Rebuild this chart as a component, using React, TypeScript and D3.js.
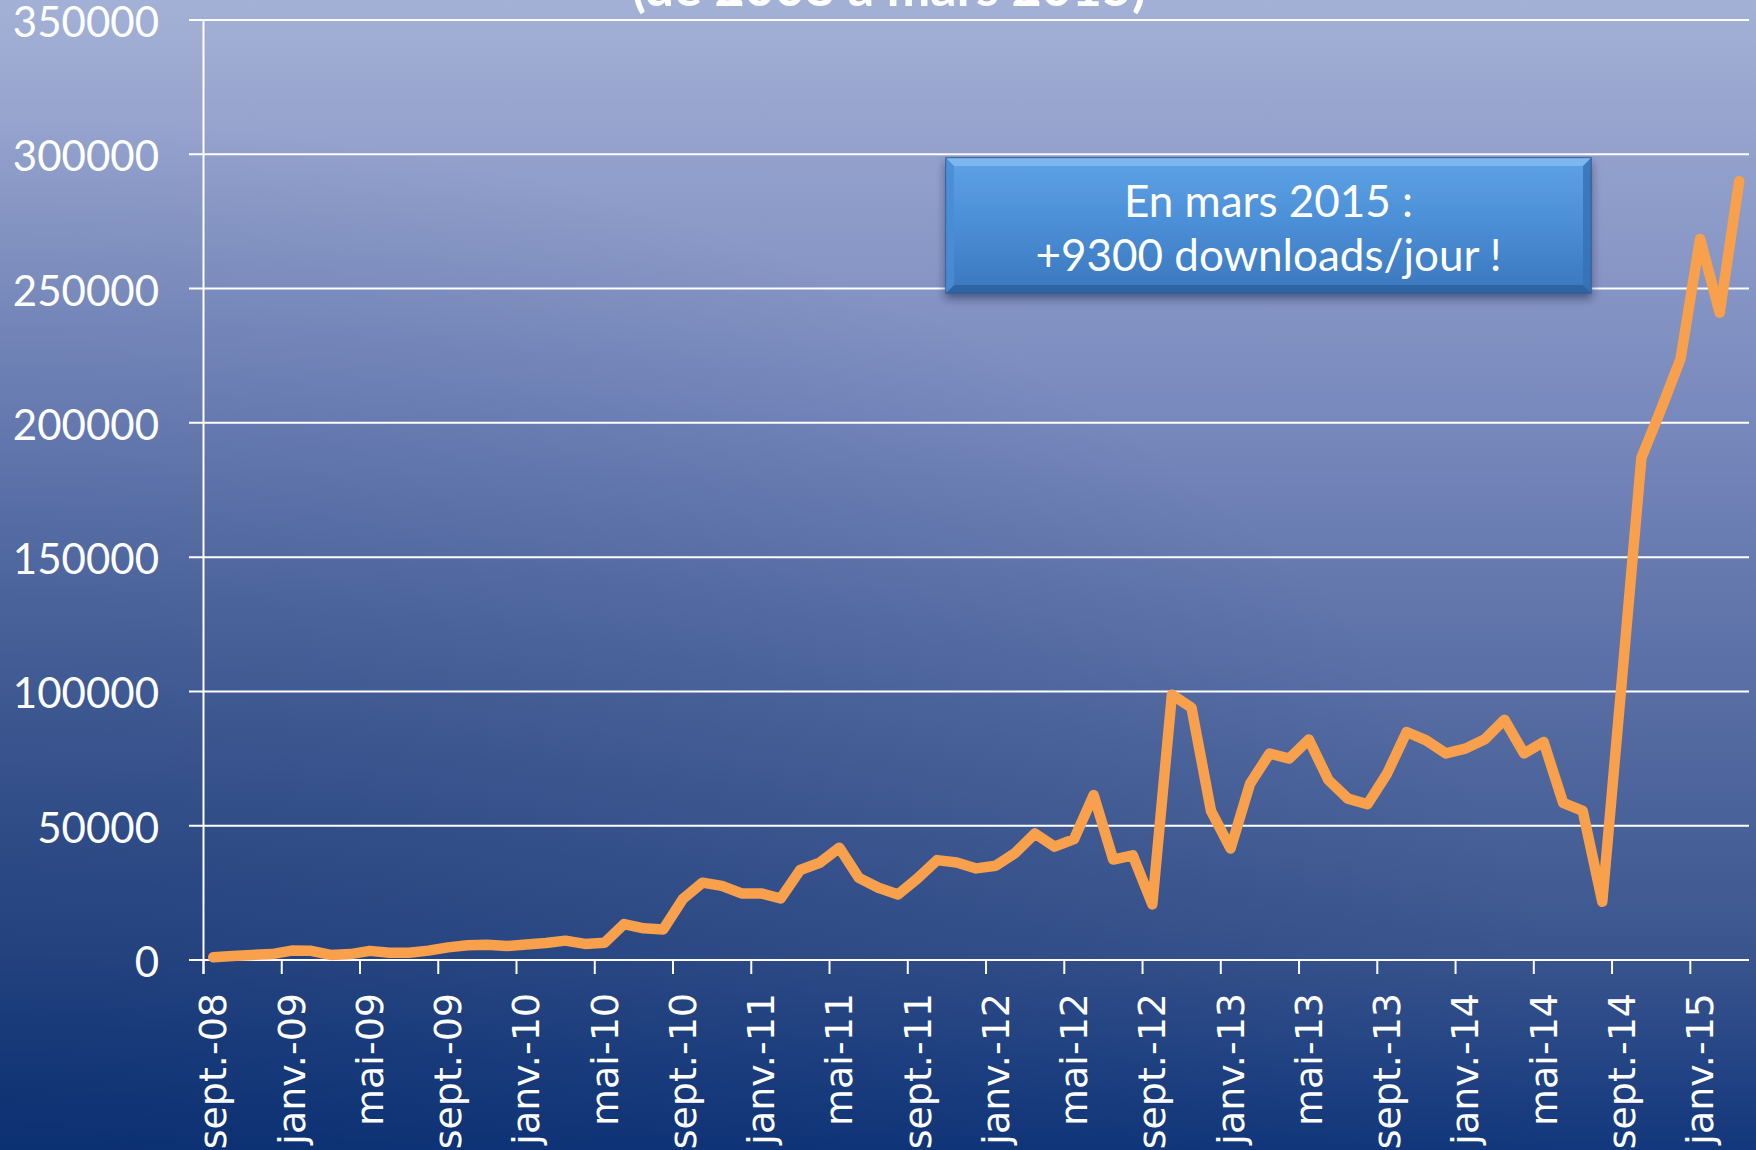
import React from "react";
import * as d3 from "d3";

// Monthly downloads, sept.-08 .. mars-15
const values: number[] = [
  1000, 1500, 1900, 2200, 3500, 3400, 1900, 2200, 3400, 2700,
  2700, 3500, 4700, 5500, 5700, 5200, 5800, 6300, 7200, 6000,
  6400, 13400, 11800, 11400, 22700, 28800, 27600, 24800, 24800, 22900,
  33500, 36200, 41800, 30600, 26900, 24400, 30400, 37200, 36300, 34100,
  35100, 39900, 47100, 42200, 45000, 61400, 37400, 39000, 20700, 98800,
  94000, 55500, 41500, 65700, 76900, 75000, 82100, 67000, 60100, 58000,
  69400, 84900, 81800, 76900, 78700, 82200, 89500, 76900, 81200, 58500,
  55500, 21700, 104000, 187000, 205000, 223800, 268500, 241000, 290000,
];

// Tick labels every 4 months
const tickLabels: string[] = [
  "sept.-08", "janv.-09", "mai-09", "sept.-09", "janv.-10", "mai-10",
  "sept.-10", "janv.-11", "mai-11", "sept.-11", "janv.-12", "mai-12",
  "sept.-12", "janv.-13", "mai-13", "sept.-13", "janv.-14", "mai-14",
  "sept.-14", "janv.-15",
];

const yTicks: number[] = [0, 50000, 100000, 150000, 200000, 250000, 300000, 350000];

const titleText = "(de 2008 à mars 2015)";
const boxLines: string[] = ["En mars 2015 :", "+9300 downloads/jour !"];

const W = 1756;
const H = 1150;

export default function App() {
  const x = d3
    .scaleBand<number>()
    .domain(d3.range(values.length))
    .range([203.5, 1749])
    .paddingInner(0)
    .paddingOuter(0);
  const bw = x.bandwidth();
  const y = d3.scaleLinear().domain([0, 350000]).range([960, 20]);

  const line = d3
    .line<number>()
    .x((_, i) => (x(i) as number) + bw / 2)
    .y((d) => y(d));

  const tickIdx = tickLabels.map((_, k) => k * 4);
  const font = "Lato, 'Open Sans', sans-serif";

  const box = { x: 946, y: 158, w: 645, h: 135 };
  const bcx = box.x + box.w / 2;

  return (
    <svg
      width={W}
      height={H}
      style={{ position: "absolute", left: 0, top: 0, display: "block" }}
    >
      <defs>
        <linearGradient id="bg" x1="0" y1="0" x2="0" y2="1">
          <stop offset="0" stopColor="#a4b1d6" />
          <stop offset="0.13" stopColor="#93a1cc" />
          <stop offset="0.36" stopColor="#7889bd" />
          <stop offset="0.57" stopColor="#5c71a7" />
          <stop offset="0.83" stopColor="#3a558e" />
          <stop offset="1" stopColor="#12377c" />
        </linearGradient>
        <radialGradient id="bgDark" cx="0" cy="1" r="0.9">
          <stop offset="0" stopColor="#062a6a" stopOpacity="0.55" />
          <stop offset="1" stopColor="#062a6a" stopOpacity="0" />
        </radialGradient>
        <linearGradient id="boxFill" x1="0" y1="0" x2="0" y2="1">
          <stop offset="0" stopColor="#5ea2e6" />
          <stop offset="0.5" stopColor="#4a8ed6" />
          <stop offset="1" stopColor="#3b77bd" />
        </linearGradient>
        <filter id="shadow" x="-10%" y="-20%" width="120%" height="150%">
          <feDropShadow dx="0" dy="5" stdDeviation="4" floodColor="#1a2a50" floodOpacity="0.55" />
        </filter>
      </defs>

      <rect x={0} y={0} width={W} height={H} fill="url(#bg)" />
      <rect x={0} y={0} width={W} height={H} fill="url(#bgDark)" />

      {/* title (partially cut off, as in the source) */}
      <text
        x={889}
        y={6}
        textAnchor="middle"
        fill="#ffffff"
        fontFamily={font}
        fontWeight="bold"
        fontSize={52}
      >
        {titleText}
      </text>

      {/* gridlines */}
      {yTicks.map((t) => (
        <line
          key={"g" + t}
          x1={189}
          x2={1749}
          y1={y(t)}
          y2={y(t)}
          stroke="#ffffff"
          strokeWidth={2}
        />
      ))}

      {/* y axis */}
      <line x1={203.5} x2={203.5} y1={y(350000)} y2={974} stroke="#ffffff" strokeWidth={2} />

      {/* x ticks */}
      {tickIdx.map((i) => (
        <line
          key={"t" + i}
          x1={x(i) as number}
          x2={x(i) as number}
          y1={960}
          y2={974}
          stroke="#ffffff"
          strokeWidth={2}
        />
      ))}

      {/* y labels */}
      {yTicks.map((t) => (
        <text
          key={"yl" + t}
          x={159}
          y={y(t) + 17}
          textAnchor="end"
          fill="#ffffff"
          fontFamily={font}
          fontSize={42}
        >
          {t}
        </text>
      ))}

      {/* x labels */}
      {tickLabels.map((lab, k) => {
        const cx = (x(k * 4) as number) + bw / 2;
        return (
          <text
            key={"xl" + k}
            transform={`translate(${cx},993) rotate(-90)`}
            textAnchor="end"
            dominantBaseline="central"
            fill="#ffffff"
            fontFamily="'DejaVu Sans', sans-serif"
            fontSize={38}
          >
            {lab}
          </text>
        );
      })}

      {/* data line */}
      <path
        d={line(values) as string}
        fill="none"
        stroke="#f8a04c"
        strokeWidth={10.5}
        strokeLinejoin="round"
        strokeLinecap="round"
      />

      {/* annotation box */}
      <g filter="url(#shadow)">
        <rect x={box.x} y={box.y} width={box.w} height={box.h} fill="url(#boxFill)" stroke="#2f5f98" strokeWidth={1.5} />
      </g>
      <polygon
        points={`${box.x},${box.y} ${box.x + box.w},${box.y} ${box.x + box.w - 8},${box.y + 8} ${box.x + 8},${box.y + 8}`}
        fill="#8cc0f2"
        opacity={0.7}
      />
      <polygon
        points={`${box.x + 8},${box.y + box.h - 8} ${box.x + box.w - 8},${box.y + box.h - 8} ${box.x + box.w},${box.y + box.h} ${box.x},${box.y + box.h}`}
        fill="#2c5f9e"
        opacity={0.8}
      />
      <polygon
        points={`${box.x + box.w - 8},${box.y + 8} ${box.x + box.w},${box.y} ${box.x + box.w},${box.y + box.h} ${box.x + box.w - 8},${box.y + box.h - 8}`}
        fill="#3670b3"
        opacity={0.8}
      />
      <polygon
        points={`${box.x},${box.y} ${box.x + 8},${box.y + 8} ${box.x + 8},${box.y + box.h - 8} ${box.x},${box.y + box.h}`}
        fill="#4b8cd3"
        opacity={0.8}
      />
      {boxLines.map((t, k) => (
        <text
          key={"b" + k}
          x={bcx}
          y={217 + k * 54}
          textAnchor="middle"
          fill="#ffffff"
          fontFamily={font}
          fontSize={44}
        >
          {t}
        </text>
      ))}
    </svg>
  );
}
